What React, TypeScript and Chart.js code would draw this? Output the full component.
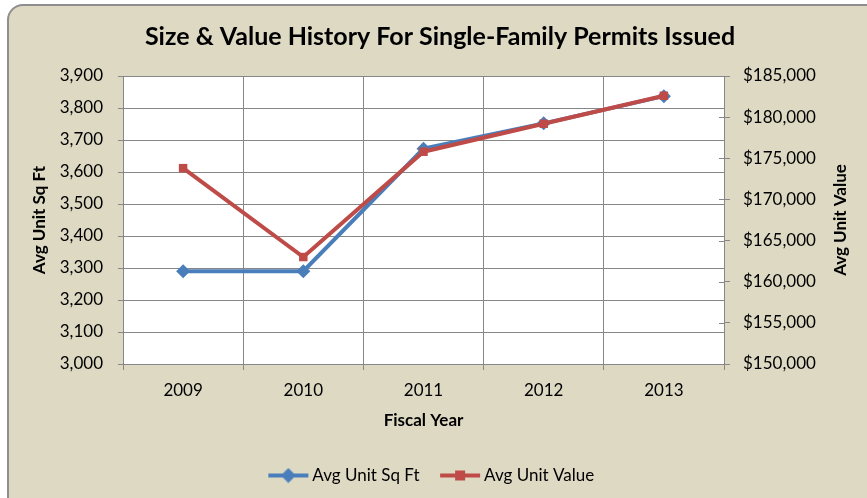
import React, { useEffect, useRef } from "react";
import { Chart, registerables } from "chart.js";

Chart.register(...registerables);

const years = ["2009", "2010", "2011", "2012", "2013"];
const avgSqFt = [3290, 3290, 3673, 3752, 3837];
const avgValue = [173800, 163000, 175800, 179200, 182600];
const seriesNames = ["Avg Unit Sq Ft", "Avg Unit Value"];
const chartTitle = "Size & Value History For Single-Family Permits Issued";
const xTitle = "Fiscal Year";

const BLUE = "#4A7EBB";
const RED = "#BE4B48";
const GRID = "#878787";
const FONT = "Lato, 'Open Sans', sans-serif";

function legendIcon(color: string, shape: "diamond" | "square") {
  const c = document.createElement("canvas");
  c.width = 52;
  c.height = 16;
  const ctx = c.getContext("2d")!;
  ctx.strokeStyle = color;
  ctx.lineWidth = 4;
  ctx.beginPath();
  ctx.moveTo(6, 8);
  ctx.lineTo(46, 8);
  ctx.stroke();
  ctx.fillStyle = color;
  ctx.beginPath();
  if (shape === "diamond") {
    ctx.moveTo(26, 0.5);
    ctx.lineTo(33.5, 8);
    ctx.lineTo(26, 15.5);
    ctx.lineTo(18.5, 8);
    ctx.closePath();
  } else {
    ctx.rect(21, 3, 10, 10);
  }
  ctx.fill();
  return c;
}

const plotDecor = {
  id: "plotDecor",
  beforeDraw(chart: any) {
    const { ctx, chartArea } = chart;
    ctx.save();
    ctx.fillStyle = "#FFFFFF";
    ctx.fillRect(
      chartArea.left,
      chartArea.top,
      chartArea.right - chartArea.left,
      chartArea.bottom - chartArea.top
    );
    ctx.restore();
  },
  beforeDatasetsDraw(chart: any) {
    const { ctx, chartArea } = chart;
    const s = chart.scales.y1;
    ctx.save();
    ctx.strokeStyle = GRID;
    ctx.lineWidth = 1;
    s.ticks.forEach((t: any) => {
      const y = Math.round(s.getPixelForValue(t.value)) + 0.5;
      ctx.beginPath();
      ctx.moveTo(chartArea.right - 5, y);
      ctx.lineTo(chartArea.right, y);
      ctx.stroke();
    });
    ctx.restore();
  },
  afterDraw(chart: any) {
    const { ctx, chartArea } = chart;
    ctx.save();
    ctx.fillStyle = "#000";
    ctx.textAlign = "center";
    ctx.textBaseline = "middle";
    ctx.font = `bold 25px ${FONT}`;
    ctx.fillText(chartTitle, 440, 37);
    ctx.translate(841, (chartArea.top + chartArea.bottom) / 2);
    ctx.rotate(-Math.PI / 2);
    ctx.font = `bold 17px ${FONT}`;
    ctx.fillText(seriesNames[1], 0, 0);
    ctx.restore();
  },
};

export default function App() {
  const ref = useRef<HTMLCanvasElement>(null);

  useEffect(() => {
    if (!ref.current) return;
    const icons = [legendIcon(BLUE, "diamond"), legendIcon(RED, "square")];
    const chart = new Chart(ref.current, {
      type: "line",
      data: {
        labels: years,
        datasets: [
          {
            label: seriesNames[0],
            data: avgSqFt,
            yAxisID: "y",
            borderColor: BLUE,
            backgroundColor: BLUE,
            borderWidth: 4,
            pointStyle: "rectRot",
            pointRadius: 7,
            pointBorderWidth: 0,
            tension: 0,
            order: 1,
          },
          {
            label: seriesNames[1],
            data: avgValue,
            yAxisID: "y1",
            borderColor: RED,
            backgroundColor: RED,
            borderWidth: 4,
            pointStyle: "rect",
            pointRadius: 6,
            pointBorderWidth: 0,
            tension: 0,
            order: 0,
          },
        ],
      },
      options: {
        responsive: false,
        animation: false,
        layout: { padding: { left: 0, right: 0, top: 76, bottom: 4 } },
        plugins: {
          title: { display: false },
          legend: {
            position: "bottom",
            labels: {
              usePointStyle: true,
              pointStyleWidth: 31,
              padding: 25,
              color: "#000",
              font: { family: FONT, size: 17 },
              generateLabels: (ch: any) =>
                ch.data.datasets.map((ds: any, i: number) => ({
                  text: ds.label,
                  pointStyle: icons[i],
                  fillStyle: ds.borderColor,
                  strokeStyle: ds.borderColor,
                  lineWidth: 0,
                  hidden: false,
                  datasetIndex: i,
                  fontColor: "#000",
                })),
            },
          },
          tooltip: { enabled: false },
        },
        scales: {
          x: {
            type: "category",
            offset: true,
            grid: {
              offset: true,
              color: GRID,
              tickLength: 6,
              lineWidth: 1,
            },
            border: { color: GRID },
            ticks: {
              color: "#000",
              font: { family: FONT, size: 17 },
              padding: 10,
              maxRotation: 0,
            },
            title: {
              display: true,
              text: xTitle,
              color: "#000",
              font: { family: FONT, size: 17, weight: "bold" },
              padding: { top: 0, bottom: 11 },
            },
            afterFit: (s: any) => {
              s.height = 78;
            },
          },
          y: {
            position: "left",
            min: 3000,
            max: 3900,
            grid: { color: GRID, tickLength: 5 },
            border: { color: GRID },
            ticks: {
              stepSize: 100,
              color: "#000",
              font: { family: FONT, size: 17 },
              padding: 15,
              callback: (v: any) => Number(v).toLocaleString("en-US"),
            },
            title: {
              display: true,
              text: seriesNames[0],
              color: "#000",
              font: { family: FONT, size: 17, weight: "bold" },
              padding: { top: 29, bottom: 0 },
            },
            afterFit: (s: any) => {
              s.width = 123;
            },
          },
          y1: {
            position: "right",
            min: 150000,
            max: 185000,
            grid: { drawOnChartArea: false, color: GRID, tickLength: 6 },
            border: { color: GRID },
            ticks: {
              stepSize: 5000,
              color: "#000",
              font: { family: FONT, size: 17 },
              padding: 13,
              callback: (v: any) => "$" + Number(v).toLocaleString("en-US"),
            },
            afterFit: (s: any) => {
              s.width = 143;
            },
          },
        },
      },
      plugins: [plotDecor],
    });
    return () => chart.destroy();
  }, []);

  return (
    <div
      style={{
        position: "fixed",
        left: 0,
        top: 0,
        width: 867,
        height: 498,
        overflow: "hidden",
      }}
    >
      <div
        style={{
          position: "absolute",
          left: 7,
          top: 4,
          width: 900,
          height: 530,
          background: "#DDD9C3",
          border: "2px solid #8E8E8E",
          borderRadius: 16,
        }}
      />
      <canvas
        ref={ref}
        width={867}
        height={498}
        style={{ position: "absolute", left: 0, top: 0, width: 867, height: 498 }}
      />
    </div>
  );
}
